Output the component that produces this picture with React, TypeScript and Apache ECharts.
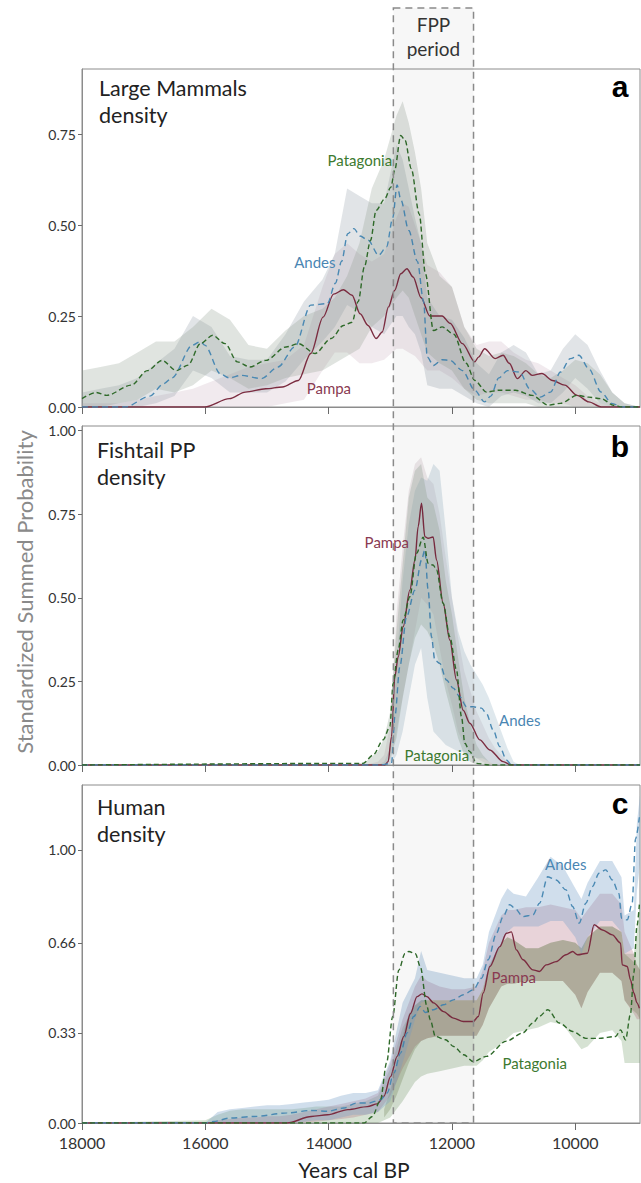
import React, { useEffect, useRef } from "react";
import * as echarts from "echarts";

const W = 641;
const H = 1183;
const FONT = "Lato, 'Noto Sans', sans-serif";

// ---------- axis ticks ----------
const xTickValues = [18000, 16000, 14000, 12000, 10000];
const yTicksA = [0, 0.25, 0.5, 0.75];
const yTicksB = [0, 0.25, 0.5, 0.75, 1.0];
const yTicksC = [0, 0.33, 0.66, 1.0];
const fppStart = 12950;
const fppEnd = 11650;

// ---------- panel a: Large Mammals density ----------
const andesAYears = [18000, 17300, 16900, 16675, 16540, 16210, 16080, 16010, 15750, 15610, 15420, 15090, 14820, 14550, 14290, 14020, 13890, 13790, 13690, 13590, 13490, 13360, 13190, 13060, 12960, 12890, 12830, 12700, 12560, 12460, 12400, 12300, 12160, 12030, 11830, 11630, 11470, 11370, 11240, 11100, 10900, 10740, 10570, 10400, 10240, 10080, 9940, 9780, 9580, 9410, 9240, 8950];
const andesAValues = [0, 0, 0.03, 0.064, 0.08, 0.17, 0.18, 0.17, 0.09, 0.08, 0.087, 0.078, 0.11, 0.165, 0.28, 0.284, 0.34, 0.4, 0.476, 0.49, 0.47, 0.458, 0.417, 0.44, 0.52, 0.61, 0.57, 0.485, 0.4, 0.29, 0.137, 0.114, 0.13, 0.128, 0.1, 0.046, 0.014, 0.03, 0.08, 0.1, 0.096, 0.05, 0.027, 0.041, 0.096, 0.133, 0.142, 0.105, 0.041, 0.01, 0, 0];

const patAYears = [18000, 17770, 17600, 17200, 16940, 16700, 16470, 16280, 16080, 15880, 15680, 15480, 15280, 15020, 14690, 14490, 14220, 13960, 13760, 13620, 13520, 13420, 13320, 13230, 13090, 12990, 12930, 12830, 12760, 12660, 12530, 12430, 12300, 12160, 11970, 11770, 11630, 11440, 11240, 10970, 10700, 10440, 10240, 9970, 9780, 9580, 9380, 9240, 8950];
const patAValues = [0.023, 0.04, 0.032, 0.06, 0.1, 0.128, 0.1, 0.115, 0.174, 0.197, 0.174, 0.124, 0.11, 0.128, 0.165, 0.174, 0.147, 0.188, 0.224, 0.233, 0.29, 0.385, 0.458, 0.54, 0.572, 0.604, 0.65, 0.746, 0.733, 0.655, 0.53, 0.366, 0.21, 0.22, 0.2, 0.12, 0.073, 0.041, 0.046, 0.046, 0.032, 0.005, 0.01, 0.032, 0.027, 0.023, 0.005, 0, 0];

const pampaAYears = [18000, 16010, 15610, 15350, 15020, 14750, 14490, 14290, 14090, 13920, 13760, 13620, 13490, 13360, 13230, 13130, 13030, 12930, 12830, 12730, 12630, 12500, 12360, 12160, 12030, 11830, 11630, 11570, 11470, 11300, 11170, 11070, 10940, 10800, 10700, 10540, 10370, 10170, 9970, 9780, 9580, 8950];
const pampaAValues = [0, 0, 0.023, 0.041, 0.05, 0.055, 0.073, 0.147, 0.247, 0.31, 0.322, 0.307, 0.256, 0.224, 0.188, 0.206, 0.275, 0.32, 0.366, 0.38, 0.357, 0.3, 0.25, 0.25, 0.23, 0.174, 0.124, 0.137, 0.16, 0.133, 0.142, 0.12, 0.078, 0.1, 0.087, 0.092, 0.073, 0.06, 0.032, 0.014, 0, 0];

const bandYearsA = [18000, 17700, 17400, 17100, 16800, 16500, 16200, 15900, 15600, 15300, 15000, 14700, 14400, 14100, 13900, 13700, 13500, 13300, 13100, 12900, 12800, 12700, 12600, 12500, 12400, 12200, 12000, 11800, 11600, 11400, 11200, 11000, 10800, 10600, 10400, 10200, 10000, 9800, 9600, 9400, 9200, 8950];
const andesBandAHigh = [0.04, 0.05, 0.06, 0.08, 0.12, 0.16, 0.25, 0.22, 0.14, 0.13, 0.13, 0.2, 0.29, 0.35, 0.42, 0.6, 0.58, 0.56, 0.56, 0.72, 0.68, 0.6, 0.52, 0.45, 0.3, 0.25, 0.24, 0.19, 0.12, 0.09, 0.15, 0.17, 0.15, 0.09, 0.1, 0.16, 0.2, 0.17, 0.1, 0.04, 0.01, 0];
const andesBandALow = [0, 0, 0, 0, 0.01, 0.03, 0.1, 0.08, 0.04, 0.04, 0.04, 0.07, 0.13, 0.18, 0.22, 0.28, 0.26, 0.22, 0.2, 0.25, 0.25, 0.22, 0.2, 0.15, 0.06, 0.05, 0.05, 0.03, 0.01, 0, 0.03, 0.04, 0.03, 0.01, 0.01, 0.04, 0.08, 0.05, 0.01, 0, 0, 0];
const patBandAHigh = [0.1, 0.11, 0.12, 0.15, 0.18, 0.18, 0.22, 0.27, 0.24, 0.17, 0.16, 0.21, 0.25, 0.27, 0.3, 0.36, 0.45, 0.6, 0.68, 0.8, 0.84, 0.78, 0.7, 0.6, 0.45, 0.36, 0.33, 0.22, 0.16, 0.14, 0.15, 0.14, 0.12, 0.09, 0.08, 0.1, 0.13, 0.12, 0.09, 0.04, 0.01, 0];
const patBandALow = [0, 0, 0.01, 0.02, 0.05, 0.04, 0.06, 0.1, 0.08, 0.05, 0.06, 0.08, 0.09, 0.1, 0.12, 0.14, 0.16, 0.22, 0.25, 0.3, 0.32, 0.3, 0.25, 0.2, 0.15, 0.12, 0.1, 0.05, 0.02, 0.01, 0.01, 0.01, 0.01, 0, 0, 0, 0, 0, 0, 0, 0, 0];
const pampaBandAHigh = [0.01, 0.01, 0.01, 0.02, 0.03, 0.04, 0.05, 0.07, 0.09, 0.11, 0.12, 0.13, 0.17, 0.33, 0.42, 0.45, 0.42, 0.4, 0.42, 0.52, 0.56, 0.55, 0.5, 0.45, 0.39, 0.37, 0.33, 0.22, 0.17, 0.18, 0.18, 0.15, 0.13, 0.12, 0.1, 0.08, 0.06, 0.03, 0.01, 0, 0, 0];
const pampaBandALow = [0, 0, 0, 0, 0, 0, 0, 0, 0, 0, 0, 0.01, 0.02, 0.1, 0.15, 0.15, 0.12, 0.12, 0.13, 0.16, 0.16, 0.15, 0.14, 0.12, 0.1, 0.1, 0.08, 0.05, 0.03, 0.04, 0.04, 0.03, 0.02, 0.02, 0.01, 0.01, 0, 0, 0, 0, 0, 0];

// ---------- panel b: Fishtail PP density ----------
const pampaBYears = [18000, 13090, 13035, 12980, 12926, 12872, 12790, 12683, 12600, 12548, 12493, 12440, 12386, 12305, 12250, 12143, 12035, 11926, 11818, 11710, 11548, 11386, 11170, 11035, 8950];
const pampaBValues = [0, 0, 0.01, 0.085, 0.264, 0.324, 0.414, 0.523, 0.613, 0.713, 0.783, 0.683, 0.678, 0.682, 0.613, 0.484, 0.374, 0.254, 0.164, 0.125, 0.075, 0.045, 0.01, 0, 0];
const patBYears = [18000, 13440, 13278, 13116, 13007, 12953, 12872, 12790, 12683, 12575, 12467, 12386, 12305, 12250, 12143, 12035, 11926, 11845, 11791, 11710, 11602, 11400, 8950];
const patBValues = [0, 0.005, 0.03, 0.075, 0.115, 0.244, 0.344, 0.434, 0.503, 0.633, 0.681, 0.603, 0.598, 0.583, 0.484, 0.384, 0.284, 0.144, 0.065, 0.04, 0.005, 0, 0];
const andesBYears = [18000, 13170, 12980, 12926, 12845, 12737, 12600, 12493, 12440, 12386, 12332, 12278, 12197, 12089, 11980, 11872, 11764, 11656, 11521, 11440, 11332, 11224, 11116, 11035, 8950];
const andesBValues = [0, 0, 0.005, 0.144, 0.294, 0.443, 0.523, 0.613, 0.643, 0.523, 0.384, 0.314, 0.304, 0.254, 0.23, 0.204, 0.174, 0.174, 0.17, 0.154, 0.105, 0.055, 0.015, 0, 0];

const bandYearsB = [13600, 13400, 13200, 13100, 13000, 12900, 12800, 12700, 12600, 12500, 12400, 12300, 12200, 12100, 12000, 11900, 11800, 11700, 11600, 11500, 11400, 11300, 11200, 11100, 11000, 10900];
const pampaBandBHigh = [0, 0, 0.01, 0.03, 0.12, 0.45, 0.65, 0.82, 0.9, 0.92, 0.86, 0.84, 0.75, 0.62, 0.5, 0.38, 0.28, 0.22, 0.16, 0.12, 0.08, 0.05, 0.03, 0.01, 0, 0];
const pampaBandBLow = [0, 0, 0, 0, 0, 0.1, 0.2, 0.3, 0.4, 0.5, 0.48, 0.45, 0.35, 0.25, 0.18, 0.1, 0.06, 0.04, 0.02, 0.01, 0, 0, 0, 0, 0, 0];
const andesBandBHigh = [0, 0, 0, 0.01, 0.05, 0.3, 0.55, 0.72, 0.82, 0.86, 0.85, 0.9, 0.88, 0.7, 0.5, 0.4, 0.34, 0.3, 0.27, 0.24, 0.2, 0.15, 0.1, 0.05, 0.01, 0];
const andesBandBLow = [0, 0, 0, 0, 0, 0.03, 0.1, 0.2, 0.3, 0.35, 0.2, 0.1, 0.08, 0.06, 0.05, 0.04, 0.04, 0.03, 0.02, 0.02, 0.01, 0, 0, 0, 0, 0];
const patBandBHigh = [0, 0.01, 0.04, 0.08, 0.16, 0.4, 0.6, 0.8, 0.88, 0.9, 0.8, 0.78, 0.7, 0.55, 0.45, 0.32, 0.2, 0.12, 0.06, 0.03, 0.01, 0, 0, 0, 0, 0];
const patBandBLow = [0, 0, 0, 0, 0.02, 0.08, 0.2, 0.3, 0.38, 0.42, 0.4, 0.36, 0.3, 0.22, 0.15, 0.08, 0.03, 0.01, 0, 0, 0, 0, 0, 0, 0, 0];

// ---------- panel c: Human density ----------
const andesCYears = [18000, 16000, 15863, 15600, 15204, 14676, 14280, 14017, 13753, 13555, 13357, 13159, 13050, 12942, 12835, 12728, 12620, 12513, 12432, 12298, 12137, 11976, 11815, 11654, 11520, 11412, 11278, 11170, 11063, 10983, 10848, 10687, 10580, 10446, 10312, 10150, 10043, 9936, 9828, 9721, 9614, 9506, 9399, 9292, 9249, 9157, 9077, 9023, 8960];
const andesCValues = [0, 0, 0.006, 0.018, 0.024, 0.037, 0.046, 0.043, 0.055, 0.073, 0.073, 0.085, 0.11, 0.183, 0.256, 0.33, 0.39, 0.427, 0.405, 0.415, 0.433, 0.451, 0.47, 0.488, 0.53, 0.598, 0.695, 0.756, 0.8, 0.787, 0.756, 0.762, 0.805, 0.902, 0.89, 0.854, 0.793, 0.732, 0.805, 0.866, 0.915, 0.927, 0.89, 0.841, 0.75, 0.744, 0.805, 1.04, 1.12];
const pampaCYears = [18000, 14676, 14280, 14017, 13687, 13372, 13211, 13103, 12996, 12889, 12781, 12674, 12566, 12486, 12405, 12298, 12137, 11976, 11815, 11654, 11573, 11493, 11385, 11224, 11117, 11036, 10956, 10848, 10687, 10580, 10473, 10312, 10150, 10043, 9963, 9802, 9694, 9560, 9399, 9265, 9238, 9157, 9104, 9050, 9000, 8960];
const pampaCValues = [0, 0, 0.024, 0.03, 0.049, 0.06, 0.07, 0.098, 0.17, 0.244, 0.317, 0.4, 0.463, 0.473, 0.463, 0.44, 0.408, 0.384, 0.372, 0.372, 0.39, 0.476, 0.573, 0.646, 0.695, 0.7, 0.634, 0.598, 0.561, 0.555, 0.579, 0.591, 0.616, 0.628, 0.616, 0.622, 0.726, 0.707, 0.689, 0.659, 0.579, 0.573, 0.524, 0.476, 0.44, 0.42];
const patCYears = [18000, 13423, 13291, 13159, 13060, 12961, 12862, 12763, 12700, 12593, 12513, 12405, 12352, 12269, 12104, 11972, 11807, 11654, 11439, 11117, 10851, 10687, 10587, 10446, 10258, 10043, 9828, 9614, 9345, 9265, 9184, 9104, 9050, 9000, 8960];
const patCValues = [0, 0, 0.024, 0.085, 0.22, 0.39, 0.56, 0.62, 0.628, 0.62, 0.573, 0.427, 0.378, 0.317, 0.305, 0.28, 0.25, 0.225, 0.244, 0.3, 0.33, 0.366, 0.39, 0.415, 0.366, 0.335, 0.31, 0.31, 0.317, 0.341, 0.305, 0.4, 0.55, 0.72, 0.8];

const bandYearsC = [18000, 16000, 15800, 15600, 15400, 15200, 15000, 14800, 14600, 14400, 14200, 14000, 13800, 13600, 13400, 13200, 13000, 12800, 12600, 12500, 12400, 12200, 12000, 11800, 11600, 11500, 11400, 11200, 11100, 11000, 10800, 10600, 10400, 10200, 10000, 9900, 9800, 9600, 9400, 9250, 9200, 9050, 9000, 8950];
const andesBandCHigh = [0, 0, 0.04, 0.05, 0.055, 0.06, 0.065, 0.065, 0.07, 0.075, 0.08, 0.085, 0.1, 0.11, 0.11, 0.12, 0.23, 0.44, 0.53, 0.63, 0.56, 0.55, 0.54, 0.53, 0.53, 0.58, 0.7, 0.82, 0.86, 0.84, 0.83, 0.9, 0.975, 0.94, 0.86, 0.82, 0.88, 0.96, 0.96, 0.9, 0.76, 0.78, 1.1, 1.2];
const andesBandCLow = [0, 0, 0, 0, 0, 0, 0, 0, 0, 0.005, 0.01, 0.01, 0.02, 0.03, 0.03, 0.04, 0.08, 0.22, 0.38, 0.44, 0.45, 0.45, 0.45, 0.45, 0.45, 0.49, 0.56, 0.65, 0.7, 0.72, 0.72, 0.72, 0.74, 0.74, 0.68, 0.62, 0.68, 0.74, 0.74, 0.7, 0.62, 0.64, 0.85, 0.95];
const pampaBandCHigh = [0, 0, 0.01, 0.015, 0.02, 0.02, 0.025, 0.025, 0.03, 0.04, 0.05, 0.06, 0.07, 0.08, 0.09, 0.11, 0.22, 0.38, 0.5, 0.54, 0.52, 0.5, 0.49, 0.49, 0.5, 0.56, 0.66, 0.76, 0.78, 0.78, 0.79, 0.79, 0.8, 0.79, 0.78, 0.75, 0.78, 0.84, 0.84, 0.8, 0.7, 0.62, 0.58, 0.56];
const pampaBandCLow = [0, 0, 0, 0, 0, 0, 0, 0, 0, 0.002, 0.005, 0.01, 0.015, 0.02, 0.03, 0.04, 0.1, 0.2, 0.28, 0.3, 0.31, 0.32, 0.32, 0.32, 0.32, 0.36, 0.42, 0.5, 0.51, 0.51, 0.52, 0.52, 0.52, 0.52, 0.47, 0.42, 0.48, 0.55, 0.55, 0.52, 0.45, 0.4, 0.38, 0.38];
const patBandCHigh = [0, 0.01, 0.03, 0.045, 0.05, 0.05, 0.05, 0.05, 0.05, 0.055, 0.06, 0.06, 0.06, 0.07, 0.08, 0.1, 0.2, 0.35, 0.43, 0.45, 0.45, 0.45, 0.45, 0.45, 0.45, 0.49, 0.58, 0.66, 0.68, 0.67, 0.64, 0.64, 0.66, 0.67, 0.66, 0.64, 0.68, 0.72, 0.72, 0.7, 0.62, 0.62, 0.7, 0.8];
const patBandCLow = [0, 0, 0, 0, 0, 0, 0, 0, 0, 0, 0, 0, 0, 0, 0, 0, 0.02, 0.08, 0.15, 0.17, 0.18, 0.19, 0.2, 0.21, 0.21, 0.23, 0.26, 0.29, 0.31, 0.33, 0.34, 0.35, 0.37, 0.36, 0.3, 0.27, 0.28, 0.33, 0.34, 0.3, 0.22, 0.22, 0.22, 0.22];
// darker overlap core of the Pampa and Patagonia intervals
const coreYearsC = [13100, 13000, 12900, 12800, 12700, 12600, 12500, 12400, 12200, 12000, 11800, 11600, 11500, 11400, 11300, 11200, 11100, 11000, 10800, 10600, 10400, 10200, 10000, 9900, 9800, 9600, 9400, 9250, 9200, 9100, 9000, 8950];
const coreBandCHigh = [0.05, 0.12, 0.22, 0.32, 0.4, 0.43, 0.45, 0.45, 0.45, 0.45, 0.45, 0.45, 0.49, 0.57, 0.62, 0.66, 0.68, 0.67, 0.64, 0.64, 0.66, 0.67, 0.66, 0.64, 0.68, 0.72, 0.72, 0.7, 0.62, 0.6, 0.58, 0.56];
const coreBandCLow = [0.02, 0.05, 0.1, 0.16, 0.22, 0.27, 0.3, 0.31, 0.32, 0.32, 0.32, 0.32, 0.36, 0.42, 0.46, 0.5, 0.51, 0.51, 0.52, 0.52, 0.52, 0.52, 0.47, 0.42, 0.48, 0.55, 0.55, 0.52, 0.45, 0.42, 0.4, 0.38];

// ---------- styles ----------
const PAMPA = "#7b2c40";
const ANDES = "#4a89b3";
const PATAG = "#2f6a2a";
const PAMPA_LBL = "#8a3a52";
const ANDES_LBL = "#4a86b3";
const PATAG_LBL = "#3d7a30";
const AXIS = "#8c8c8c";

function bandSeries(g: number, years: number[], low: number[], high: number[], color: string) {
  const mid = Math.floor(years.length / 2);
  return {
    type: "custom",
    xAxisIndex: g,
    yAxisIndex: g,
    coordinateSystem: "cartesian2d",
    silent: true,
    clip: true,
    z: 1,
    data: [[years[mid], low[mid]]],
    renderItem: (_p: any, api: any) => {
      const pts: number[][] = [];
      for (let i = 0; i < years.length; i++) pts.push(api.coord([years[i], high[i]]));
      for (let i = years.length - 1; i >= 0; i--) pts.push(api.coord([years[i], low[i]]));
      return { type: "polygon", shape: { points: pts }, style: { fill: color, stroke: "none" } };
    },
  };
}

function lineSeries(g: number, years: number[], vals: number[], color: string, dash: any) {
  return {
    type: "line",
    xAxisIndex: g,
    yAxisIndex: g,
    data: years.map((y, i) => [y, vals[i]]),
    symbol: "none",
    showSymbol: false,
    smooth: 0.3,
    smoothMonotone: "x",
    clip: true,
    z: 3,
    silent: true,
    lineStyle: { color, width: 1.4, type: dash },
  };
}

export default function App() {
  const ref = useRef<HTMLDivElement>(null);
  useEffect(() => {
    const chart = echarts.init(ref.current!, null, { renderer: "svg" });
    const grids = [
      { left: 82, width: 558, top: 69, height: 338 },
      { left: 82, width: 558, top: 426, height: 339 },
      { left: 82, width: 558, top: 785, height: 338 },
    ];
    const yMax = [0.9286, 1.0138, 1.238];
    const yTicks = [yTicksA, yTicksB, yTicksC];

    const series: any[] = [
      bandSeries(0, bandYearsA, pampaBandALow, pampaBandAHigh, "rgba(200,172,186,0.25)"),
      bandSeries(0, bandYearsA, andesBandALow, andesBandAHigh, "rgba(140,150,162,0.26)"),
      bandSeries(0, bandYearsA, patBandALow, patBandAHigh, "rgba(140,156,140,0.27)"),
      bandSeries(1, bandYearsB, pampaBandBLow, pampaBandBHigh, "rgba(195,175,184,0.28)"),
      bandSeries(1, bandYearsB, andesBandBLow, andesBandBHigh, "rgba(150,178,196,0.3)"),
      bandSeries(1, bandYearsB, patBandBLow, patBandBHigh, "rgba(140,158,142,0.3)"),
      bandSeries(2, bandYearsC, patBandCLow, patBandCHigh, "rgba(120,160,110,0.3)"),
      bandSeries(2, bandYearsC, pampaBandCLow, pampaBandCHigh, "rgba(180,110,130,0.3)"),
      bandSeries(2, coreYearsC, coreBandCLow, coreBandCHigh, "rgba(95,115,65,0.26)"),
      bandSeries(2, bandYearsC, andesBandCLow, andesBandCHigh, "rgba(120,160,200,0.35)"),
      lineSeries(0, pampaAYears, pampaAValues, PAMPA, "solid"),
      lineSeries(0, andesAYears, andesAValues, ANDES, [6, 4]),
      lineSeries(0, patAYears, patAValues, PATAG, [5, 3]),
      lineSeries(1, pampaBYears, pampaBValues, PAMPA, "solid"),
      lineSeries(1, andesBYears, andesBValues, ANDES, [6, 4]),
      lineSeries(1, patBYears, patBValues, PATAG, [5, 3]),
      lineSeries(2, pampaCYears, pampaCValues, PAMPA, "solid"),
      lineSeries(2, andesCYears, andesCValues, ANDES, [6, 4]),
      lineSeries(2, patCYears, patCValues, PATAG, [5, 3]),
    ];

    chart.setOption({
      animation: false,
      backgroundColor: "#ffffff",
      grid: grids.map((g) => ({ ...g, show: true, borderColor: AXIS, borderWidth: 1, backgroundColor: "transparent" })),
      xAxis: grids.map((_g, i) => ({
        type: "value",
        gridIndex: i,
        inverse: true,
        min: 8950,
        max: 18000,
        axisLine: { show: true, lineStyle: { color: AXIS, width: 1 } },
        axisTick: { show: true, length: 7, inside: false, customValues: xTickValues, lineStyle: { color: "#6a6a6a" } },
        axisLabel: {
          show: i === 2,
          customValues: xTickValues,
          formatter: (v: number) => String(v),
          fontSize: 16,
          fontFamily: FONT,
          color: "#333",
          margin: 11,
        },
        splitLine: { show: false },
      })),
      yAxis: grids.map((_g, i) => ({
        type: "value",
        gridIndex: i,
        min: 0,
        max: yMax[i],
        axisLine: { show: true, lineStyle: { color: AXIS, width: 1 } },
        axisTick: { show: true, length: 4, customValues: yTicks[i], lineStyle: { color: "#6a6a6a" } },
        axisLabel: {
          customValues: yTicks[i],
          formatter: (v: number) => v.toFixed(2),
          fontSize: 14,
          fontFamily: FONT,
          color: "#333",
          margin: 6,
        },
        splitLine: { show: false },
      })),
      series,
    });

    const px = (g: number, p: number[]) => chart.convertToPixel({ gridIndex: g } as any, p) as number[];
    const x0 = chart.convertToPixel({ xAxisIndex: 0 } as any, fppStart) as number;
    const x1 = chart.convertToPixel({ xAxisIndex: 0 } as any, fppEnd) as number;
    const yBottom = chart.convertToPixel({ yAxisIndex: 2 } as any, 0) as number;

    const txt = (x: number, y: number, text: string, extra: any) => ({
      type: "text",
      x,
      y,
      silent: true,
      z: 200,
      style: {
        text,
        fontFamily: FONT,
        textAlign: "center",
        align: "center",
        textVerticalAlign: "middle",
        verticalAlign: "middle",
        ...extra,
      },
    });

    const seriesLabels = [
      { g: 0, t: "Patagonia", at: [13494, 0.679], c: PATAG_LBL },
      { g: 0, t: "Andes", at: [14223, 0.398], c: ANDES_LBL },
      { g: 0, t: "Pampa", at: [13996, 0.052], c: PAMPA_LBL },
      { g: 1, t: "Pampa", at: [13056, 0.668], c: PAMPA_LBL },
      { g: 1, t: "Andes", at: [10900, 0.135], c: ANDES_LBL },
      { g: 1, t: "Patagonia", at: [12245, 0.03], c: PATAG_LBL },
      { g: 2, t: "Andes", at: [10154, 0.949], c: ANDES_LBL },
      { g: 2, t: "Pampa", at: [10997, 0.536], c: PAMPA_LBL },
      { g: 2, t: "Patagonia", at: [10657, 0.22], c: PATAG_LBL },
    ];

    const titleStyle = { fontSize: 21.5, lineHeight: 27, fill: "#222", textAlign: "left", align: "left", textVerticalAlign: "top", verticalAlign: "top" };
    const letterStyle = { fontSize: 30, fontWeight: "bold", fontFamily: "'Liberation Sans', Arial, sans-serif", fill: "#000" };

    const elements: any[] = [
      {
        type: "rect",
        silent: true,
        z: 150,
        shape: { x: x0, y: 8, width: x1 - x0, height: yBottom - 8 },
        style: { fill: "rgba(0,0,0,0.03)", stroke: "#8a8a8a", lineWidth: 1.5, lineDash: [7, 5] },
      },
      txt((x0 + x1) / 2, 24, "FPP", { fontSize: 19, fill: "#333" }),
      txt((x0 + x1) / 2, 48, "period", { fontSize: 19, fill: "#333" }),
      txt(99, 74, "Large Mammals\ndensity", titleStyle),
      txt(97, 436, "Fishtail PP\ndensity", titleStyle),
      txt(97, 793, "Human\ndensity", titleStyle),
      txt(620, 86, "a", letterStyle),
      txt(620, 446, "b", letterStyle),
      txt(620, 803, "c", letterStyle),
      { ...txt(24, 592, "Standardized Summed Probability", { fontSize: 22, fill: "#8a8a8a" }), rotation: Math.PI / 2 },
      txt(354, 1169, "Years cal BP", { fontSize: 21, fill: "#222" }),
      ...seriesLabels.map((l) => {
        const p = px(l.g, l.at);
        return txt(p[0], p[1], l.t, { fontSize: 15, fill: l.c });
      }),
    ];
    chart.setOption({ graphic: { elements } });

    return () => chart.dispose();
  }, []);

  return (
    <div
      ref={ref}
      style={{ position: "fixed", left: 0, top: 0, width: W, height: H, background: "#fff" }}
    />
  );
}
